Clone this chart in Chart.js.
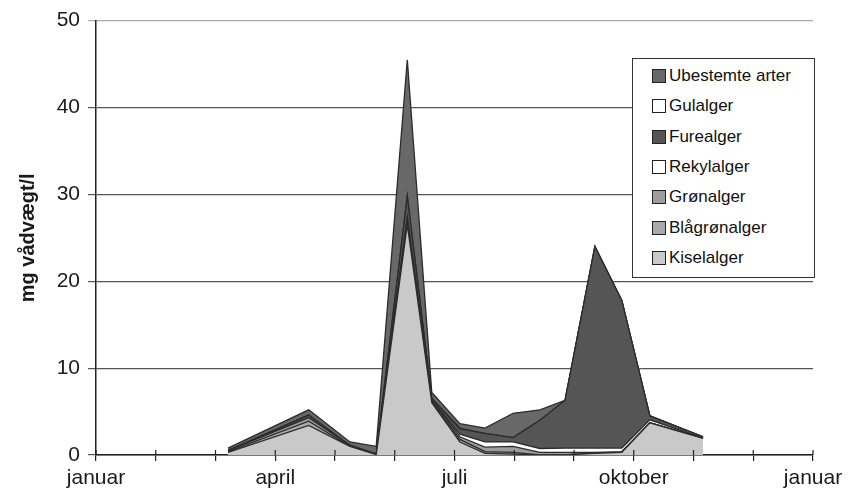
<!DOCTYPE html>
<html>
<head>
<meta charset="utf-8">
<script src="https://cdn.jsdelivr.net/npm/chart.js@4.4.1/dist/chart.umd.min.js"></script>
<style>
  body { margin: 0; background: #fff; }
  #wrap { position: relative; width: 849px; height: 503px; }
  #legend {
    position: absolute; left: 632px; top: 58px; width: 183px; height: 220px;
    border: 1px solid #333; background: #fff; box-sizing: border-box; padding-top: 2px;
    font-family: "Liberation Sans", Arial, sans-serif; font-size: 17px; color: #111;
  }
  .row { height: 30.3px; display: flex; align-items: center; padding-left: 19px; }
  .sw { width: 12px; height: 12px; border: 1px solid #222; margin-right: 3px; }
</style>
</head>
<body>
<div id="wrap">
  <canvas id="chart" width="849" height="503"></canvas>
  <div id="legend"></div>
</div>
<script>
// prøvetagningsdatoer, angivet i måneder fra 1. januar
const sampleMonths = [2.21, 3.56, 4.25, 4.69, 5.21, 5.62, 6.09, 6.51, 6.98, 7.43, 7.85, 8.35, 8.80, 9.27, 10.16];

// mg vådvægt/l pr. gruppe (nederst i stakken først)
const kiselalger     = [0.3, 3.4, 1.0, 0.05, 26.5, 6.0, 1.5, 0.2, 0.1, 0,    0,   0.2,  0.3,  3.7,  1.9];
const blaagroenalger = [0.1, 0.5, 0,   0,    0.3,  0.1, 0.3, 0.2, 0.2, 0,    0,   0,    0,    0,    0];
const groenalger     = [0.1, 0.4, 0.1, 0.05, 0.5,  0.2, 0.3, 0.5, 0.7, 0.3,  0.3, 0.1,  0.1,  0,    0];
const rekylalger     = [0,   0,   0,   0,    0,    0,   0.3, 0.6, 0.5, 0.45, 0.5, 0.5,  0.4,  0.35, 0.05];
const furealger      = [0,   0.3, 0,   0,    2.5,  0.2, 0.6, 1.0, 0.5, 3.25, 5.5, 23.2, 17.0, 0.45, 0.15];
const gulalger       = [0,   0,   0,   0,    0,    0,   0.1, 0,   0,   0,    0,   0,    0,    0,    0];
const ubestemte      = [0.3, 0.6, 0.4, 0.9,  15.7, 0.7, 0.5, 0.6, 2.8, 1.2,  0,   0,    0,    0,    0];

const seriesNames = ["Kiselalger", "Blågrønalger", "Grønalger", "Rekylalger", "Furealger", "Gulalger", "Ubestemte arter"];
const seriesData = [kiselalger, blaagroenalger, groenalger, rekylalger, furealger, gulalger, ubestemte];
const seriesColors = ["#c9c9c9", "#a9a9a9", "#9d9d9d", "#ffffff", "#555555", "#ffffff", "#686868"];

const tickMonths = [0, 3, 6, 9, 12];
const tickNames = ["januar", "april", "juli", "oktober", "januar"];
const yMax = 50;
const yStep = 10;

const fontFam = "'Liberation Sans', Arial, sans-serif";

const datasets = seriesNames.map((name, i) => ({
  label: name,
  data: seriesData[i].map((v, j) => ({ x: sampleMonths[j], y: v })),
  backgroundColor: seriesColors[i],
  borderColor: "#2b2b2b",
  borderWidth: 1.3,
  pointRadius: 0,
  tension: 0,
  fill: i === 0 ? "origin" : "-1"
}));

// små streger der krydser x-aksen opad (som i Excel)
const crossTicks = {
  id: "crossTicks",
  afterDraw(chart) {
    const x = chart.scales.x;
    const ctx = chart.ctx;
    ctx.save();
    ctx.strokeStyle = "#222";
    ctx.lineWidth = 1.2;
    x.ticks.forEach((t) => {
      const px = x.getPixelForValue(t.value);
      ctx.beginPath();
      ctx.moveTo(px, x.top - 5);
      ctx.lineTo(px, x.top);
      ctx.stroke();
    });
    ctx.restore();
  }
};

new Chart(document.getElementById("chart"), {
  type: "line",
  data: { datasets: datasets },
  plugins: [crossTicks],
  options: {
    responsive: false,
    animation: false,
    layout: { padding: { top: 19, right: 36, left: 0, bottom: 0 } },
    plugins: { legend: { display: false }, tooltip: { enabled: false } },
    scales: {
      x: {
        type: "linear",
        min: 0, max: 12,
        afterFit: (s) => { s.height = 48; },
        grid: { drawOnChartArea: false, drawTicks: true, tickLength: 6, tickColor: "#222", lineWidth: 1.2 },
        border: { color: "#222", width: 1.5 },
        ticks: {
          stepSize: 1, autoSkip: false, maxRotation: 0, padding: 5,
          color: "#1a1a1a", font: { family: fontFam, size: 21 },
          callback: (v) => { const k = tickMonths.indexOf(v); return k >= 0 ? tickNames[k] : ""; }
        }
      },
      y: {
        stacked: true,
        min: 0, max: yMax,
        afterFit: (s) => { s.width = 96; },
        grid: {
          color: (c) => c.tick && c.tick.value === yMax ? "#aaa" : "#555",
          lineWidth: 1.2, tickLength: 8
        },
        border: { color: "#222", width: 1.5 },
        ticks: { stepSize: yStep, padding: 8, color: "#1a1a1a", font: { family: fontFam, size: 21 } },
        title: {
          display: true, text: "mg vådvægt/l", color: "#1a1a1a",
          font: { family: fontFam, size: 20, weight: "bold" },
          padding: { top: 16, bottom: 0 }
        }
      }
    }
  }
});

// forklaring (øverste gruppe først, som i Excel)
const legendEl = document.getElementById("legend");
for (let i = seriesNames.length - 1; i >= 0; i--) {
  const row = document.createElement("div");
  row.className = "row";
  row.innerHTML = `<span class="sw" style="background:${seriesColors[i]}"></span><span>${seriesNames[i]}</span>`;
  legendEl.appendChild(row);
}
</script>
</body>
</html>
